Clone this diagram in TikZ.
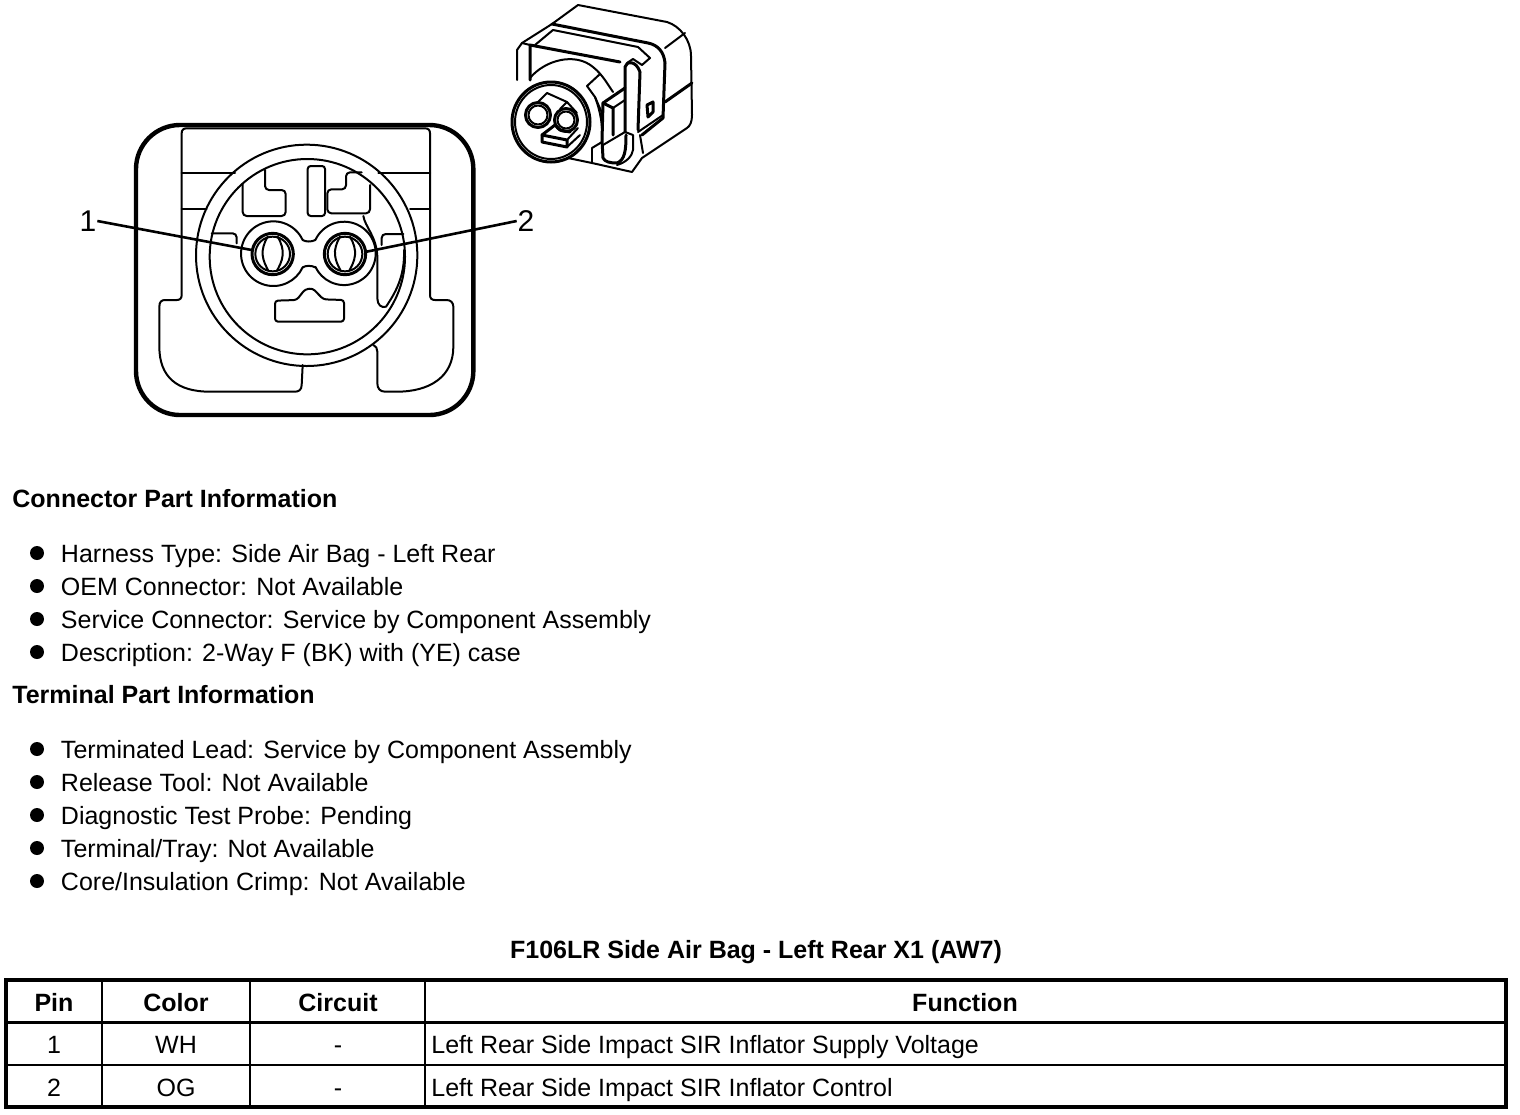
\documentclass[tikz,border=0pt]{standalone}
\usepackage{fontspec}
\setmainfont{Liberation Sans}
\usepackage{tikz}
\usetikzlibrary{positioning}
\tikzset{bulletdot/.style={circle,fill=black,inner sep=0pt,outer sep=0pt,minimum size=7pt},
	 itemtext/.style={inner sep=0pt,outer sep=0pt,text height=9.5pt,text depth=.5pt,font=\fontsize{12.5}{15}\selectfont},
	 headtext/.style={inner sep=0pt,anchor=base west,font=\fontsize{12.5}{15}\selectfont\bfseries},
	 cellhead/.style={inner sep=0pt,anchor=base,font=\fontsize{12.5}{15}\selectfont\bfseries},
	 celltext/.style={inner sep=0pt,anchor=base,font=\fontsize{12.5}{15}\selectfont},
	 pinlabel/.style={inner sep=.5pt,outer sep=0pt,font=\fontsize{15}{18}\selectfont},
	 thinline/.style={line width=1pt,line join=round,line cap=round},
	 heavyline/.style={line width=1.5pt,line join=round,line cap=round},
	 node distance = 9.5pt and 8.5pt
	 }

\begin{document}
\begin{tikzpicture}[x=.5pt,y=-.5pt]
	\useasboundingbox (0,0) rectangle (1520,1114);
	\fill[white] (0,0) rectangle (1520,1114);
	% front view
	\begin{scope}[shift={(120,110)},x=.16667pt,y=-.16667pt]
		\draw[line width=2.2pt,rounded corners=22pt] (48,45) rectangle (1060,915);
		\draw[thinline] (548,765) -- (545,825) .. controls (545,840) and (535,845) .. (525,845) -- (270,845) .. controls (170,845) and (118,800) .. (118,710) -- (118,590) .. controls (118,575) and (125,570) .. (135,570) -- (170,570) .. controls (180,570) and (185,565) .. (185,555) -- (185,70) .. controls (185,60) and (190,55) .. (200,55) -- (915,55) .. controls (925,55) and (930,60) .. (930,70) -- (930,555) .. controls (930,565) and (935,570) .. (945,570) -- (980,570) .. controls (992,570) and (1000,578) .. (1000,590) -- (1000,710) .. controls (1000,800) and (930,845) .. (830,845) -- (795,845) .. controls (780,845) and (772,835) .. (772,820) -- (772,725) .. controls (772,715) and (768,708) .. (760,705);
		\draw[thinline] (185,190) -- (345,190);
		\draw[thinline] (185,297) -- (260,297);
		\draw[thinline] (775,190) -- (930,190);
		\draw[thinline] (870,297) -- (930,297);
		\draw[thinline] (560,436) circle[radius=332];
		\draw[thinline] (562,440) circle[radius=293];
		% keys inside the shell
		\draw[thinline,rounded corners=2pt] (435,180) -- (435,240) -- (497,240) -- (497,318) -- (368,318) -- (368,222);
		\draw[thinline,rounded corners=1.5pt] (563,168) rectangle (615,318);
		\draw[thinline,rounded corners=2pt] (725,187) -- (678,187) -- (678,238) -- (622,238) -- (622,310) -- (750,310) -- (750,225);
		\draw[thinline,rounded corners=2pt] (275,370) -- (350,370) -- (350,400);
		\draw[thinline,rounded corners=2pt] (850,372) -- (785,372) -- (785,405);
		\draw[thinline,rounded corners=1.5pt] (465,572) -- (530,570) -- (555,538) -- (578,535) -- (610,568) -- (672,570) -- (672,635) -- (465,635) -- cycle;
		\draw[thinline] (730,318) .. controls (735,350) and (770,380) .. (772,440) -- (772,565) .. controls (772,585) and (785,595) .. (798,590) .. controls (825,550) and (855,500) .. (852,420);
		% pin pockets
		\draw[thinline] (548,390) arc[start angle=-25,end angle=-335,radius=97];
		\draw[thinline] (586,390) arc[start angle=205,end angle=515,radius=95];
		\draw[thinline] (548,390) .. controls (558,396) and (574,396) .. (586,390);
		\draw[thinline] (548,472) .. controls (558,466) and (574,466) .. (586,472);
		\draw[heavyline] (458,432) circle[radius=62];
		\draw[thinline] (458,432) circle[radius=52];
		\draw[heavyline] (675,432) circle[radius=62];
		\draw[thinline] (675,432) circle[radius=52];
		\draw[thinline] (443,380) .. controls (432,398) and (426,420) .. (428,435) .. controls (430,455) and (438,468) .. (445,482);
		\draw[thinline] (473,380) .. controls (484,398) and (490,420) .. (488,435) .. controls (486,455) and (478,468) .. (471,482);
		\draw[thinline] (660,380) .. controls (649,398) and (643,420) .. (645,435) .. controls (647,455) and (655,468) .. (662,482);
		\draw[thinline] (690,380) .. controls (701,398) and (707,420) .. (705,435) .. controls (703,455) and (695,468) .. (688,482);
		\coordinate (p1) at (395,420);
		\coordinate (p2) at (740,425);
	\end{scope}
	\node[pinlabel] (n1) at (88,221) {1};
	\node[pinlabel] (n2) at (526,221) {2};
	\draw[line width=1.3pt] (n1.east) -- (p1);
	\draw[line width=1.3pt] (n2.west) -- (p2);
	% connector view
	\draw[thinline] (517,80) -- (517,50) -- (522,43) -- (552,24) -- (578,5) -- (667,22) .. controls (680,26) and (691,40) .. (691,56) -- (692,115) .. controls (692,122) and (690,126) .. (687,128) -- (642,158) -- (632,172) -- (592,163) -- (568,158);
	\draw[heavyline] (552,24) -- (648,43) .. controls (658,45) and (664,52) .. (665,63) -- (663,118) -- (642,135);
	\draw[thinline] (535,45) -- (553,30) -- (638,47) -- (650,58) -- (642,65) -- (633,59) -- (627,63);
	\draw[heavyline] (530,80) -- (530,45) -- (620,62);
	\draw[thinline] (522,43) -- (530,45);
	\draw[thinline] (665,48) -- (685,33);
	\draw[thinline] (530,78) .. controls (545,60) and (575,52) .. (593,67) .. controls (603,75) and (608,85) .. (613,92);
	\draw[thinline] (587,86) -- (600,74);
	\draw[thinline] (587,86) -- (595,97) -- (602,113);
	\draw[thinline] (638,132) -- (663,115);
	\draw[heavyline] (665,102) -- (692,83);
	\draw[heavyline] (647,105) -- (653,102) -- (653,112) -- (648,117) -- cycle;
	% latch
	\draw[heavyline] (625,132) -- (625,67) .. controls (626,61) and (636,60) .. (640,72) -- (638,130);
	\draw[heavyline] (603,103) -- (625,88);
	\draw[heavyline] (603,103) -- (613,108) -- (613,135);
	\draw[thinline] (613,108) -- (625,100);
	\draw[heavyline] (603,103) -- (602,140) -- (603,158) .. controls (605,162) and (610,163) .. (617,163) .. controls (625,160) and (626,150) .. (626,135);
	\draw[thinline] (603,145) -- (625,132) -- (633,135) -- (633,150) .. controls (632,156) and (627,162) .. (617,165);
	\draw[thinline] (640,135) -- (643,153);
	\draw[thinline] (592,148) -- (592,163);
	\draw[thinline] (592,148) -- (602,142);
	\draw[thinline] (595,97) .. controls (600,110) and (603,125) .. (602,140);
	% front face
	\draw[heavyline] (551,122) ellipse[x radius=39,y radius=40];
	\draw[thinline] (551,122) ellipse[x radius=36,y radius=37];
	\draw[heavyline] (538,115) circle[radius=12.5];
	\draw[thinline] (538,115) circle[radius=9.5];
	\draw[heavyline] (566,120) circle[radius=11.5];
	\draw[thinline] (566,120) circle[radius=8.5];
	\draw[thinline] (537,103) -- (547,93) -- (567,102) -- (560,109);
	\draw[thinline] (567,102) -- (577,113);
	\draw[heavyline] (542,135) -- (555,125) -- (560,130) -- (570,132);
	\draw[heavyline] (542,135) -- (542,142) -- (567,147) -- (567,140) -- cycle;
	\draw[thinline] (567,140) -- (578,128);
	\draw[thinline] (567,147) -- (580,135);
	% connector part information
	\node[headtext] (hc) at (12,507) {Connector Part Information};
	\node[bulletdot] (b1) at (37,553) {};
	\node[bulletdot] (b2) [below=of b1] {};
	\node[bulletdot] (b3) [below=of b2] {};
	\node[bulletdot] (b4) [below=of b3] {};
	\node[itemtext] (t1) [right=of b1] {Harness Type: Side Air Bag - Left Rear};
	\node[itemtext] (t2) [right=of b2] {OEM Connector: Not Available};
	\node[itemtext] (t3) [right=of b3] {Service Connector: Service by Component Assembly};
	\node[itemtext] (t4) [right=of b4] {Description: 2-Way F (BK) with (YE) case};
	% terminal part information
	\node[headtext] (ht) at (12,703) {Terminal Part Information};
	\node[bulletdot] (b5) at (37,749) {};
	\node[bulletdot] (b6) [below=of b5] {};
	\node[bulletdot] (b7) [below=of b6] {};
	\node[bulletdot] (b8) [below=of b7] {};
	\node[bulletdot] (b9) [below=of b8] {};
	\node[itemtext] (t5) [right=of b5] {Terminated Lead: Service by Component Assembly};
	\node[itemtext] (t6) [right=of b6] {Release Tool: Not Available};
	\node[itemtext] (t7) [right=of b7] {Diagnostic Test Probe: Pending};
	\node[itemtext] (t8) [right=of b8] {Terminal/Tray: Not Available};
	\node[itemtext] (t9) [right=of b9] {Core/Insulation Crimp: Not Available};
	% table
	\node[cellhead] (title) at (756,958) {F106LR Side Air Bag - Left Rear X1 (AW7)};
	\draw[line width=2pt] (6,980) rectangle (1506,1107);
	\draw[line width=1.5pt] (6,1022) -- (1506,1022);
	\draw[line width=1pt] (6,1065) -- (1506,1065);
	\draw[line width=.8pt] (102,980) -- (102,1107);
	\draw[line width=.8pt] (250,980) -- (250,1107);
	\draw[line width=.8pt] (425,980) -- (425,1107);
	\node[cellhead] (hpin) at (54,1011) {Pin};
	\node[cellhead] (hcolor) at (176,1011) {Color};
	\node[cellhead] (hcircuit) at (338,1011) {Circuit};
	\node[cellhead] (hfunction) at (965,1011) {Function};
	\node[celltext] (pin1) at (54,1053) {1};
	\node[celltext] (color1) at (176,1053) {WH};
	\node[celltext] (circuit1) at (338,1053) {-};
	\node[celltext,anchor=base west] (function1) at (431,1053) {Left Rear Side Impact SIR Inflator Supply Voltage};
	\node[celltext] (pin2) at (54,1096) {2};
	\node[celltext] (color2) at (176,1096) {OG};
	\node[celltext] (circuit2) at (338,1096) {-};
	\node[celltext,anchor=base west] (function2) at (431,1096) {Left Rear Side Impact SIR Inflator Control};
\end{tikzpicture}
\end{document}
